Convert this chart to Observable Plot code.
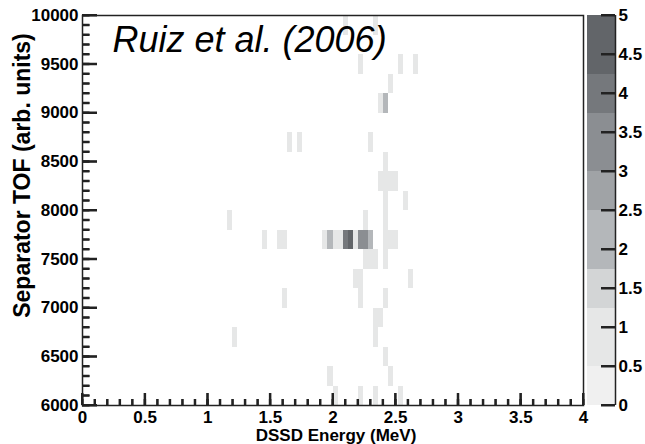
<!DOCTYPE html>
<html><head><meta charset="utf-8">
<script src="https://cdn.jsdelivr.net/npm/d3@7"></script>
<script src="https://cdn.jsdelivr.net/npm/@observablehq/plot@0.6"></script>
<style>
body{margin:0;background:#fff;}
#wrap{position:relative;width:645px;height:444px;}
#wrap svg{position:absolute;left:0;top:0;}
</style></head><body><div id="wrap"></div>
<script>
// Histogram cells: lower edge of energy bin (MeV), lower edge of TOF bin, counts
const cellEnergy = [2.08,2.32, 2.20,2.52,2.64, 2.44, 2.36,2.40, 1.64,1.72,2.28, 2.40,
  2.36,2.40,2.44,2.48, 2.40,2.56, 1.16,2.24,2.40,
  1.44,1.56,1.60,1.92,1.96,2.00,2.04,2.08,2.12,2.16,2.20,2.24,2.28,2.40,2.44,2.48,
  2.24,2.28,2.32,2.40, 2.16,2.20,2.60, 1.60,2.20,2.40, 2.32,2.36, 1.20,2.32, 2.40,
  1.96,2.44, 2.00,2.20,2.32,2.52];
const cellTof = [9800,9800, 9400,9400,9400, 9200, 9000,9000, 8600,8600,8600, 8400,
  8200,8200,8200,8200, 8000,8000, 7800,7800,7800,
  7600,7600,7600,7600,7600,7600,7600,7600,7600,7600,7600,7600,7600,7600,7600,7600,
  7400,7400,7400,7400, 7200,7200,7200, 7000,7000,7000, 6800,6800, 6600,6600, 6400,
  6200,6200, 6000,6000,6000,6000];
const cellCounts = [1,1, 1,1,1, 1, 1,2, 1,1,1, 1,
  1,1,1,1, 1,1, 1,1,1,
  1,1,1,1,2,1,1,4,5,1,3,3,2,1,1,1,
  1,1,1,1, 1,1,1, 1,1,1, 1,1, 1,1, 1,
  1,1, 1,1,1,1];

const xTicks = [0,0.5,1,1.5,2,2.5,3,3.5,4];
const yTicks = [6000,6500,7000,7500,8000,8500,9000,9500,10000];
const zTicks = [0,0.5,1,1.5,2,2.5,3,3.5,4,4.5,5];
const zLevels = [0.5,1.25,1.75,2.5,3,3.75,4.25];
const zColors = ["#f0f0f0","#e6e7e7","#d3d5d6","#b4b7ba","#a0a3a6","#8b8e92","#75787c","#626569"];
const zMax = 5;

const E_BIN = 0.04, T_BIN = 200;
const xMinor = d3.range(0, 41).map(i => i / 10);
const yMinor = d3.range(60, 101).map(i => i * 100);

const cells = cellEnergy.map((e, i) => ({e, t: cellTof[i], n: cellCounts[i]}));
const bandLo = [0, ...zLevels];
const bandHi = [...zLevels, zMax];
const bands = bandLo.map((lo, i) => ({lo, hi: bandHi[i], mid: (lo + bandHi[i]) / 2}));

const font = "'Liberation Sans', Arial, Helvetica, sans-serif";
const colorScale = {type: "threshold", domain: zLevels, range: zColors};
const ink = "#222";
const TW = 2; // tick stroke width

const W = 645, H = 444;
const mL = 82, mR = 62, mT = 15, mB = 39;
const frameW = W - mL - mR, frameH = H - mT - mB;

const main = Plot.plot({
  width: W, height: H,
  marginLeft: mL, marginRight: mR, marginTop: mT, marginBottom: mB,
  style: {background: "transparent", fontFamily: font, color: "#000"},
  x: {domain: [0, 4]},
  y: {domain: [6000, 10000]},
  color: colorScale,
  marks: [
    Plot.rect(cells, {x1: "e", x2: d => d.e + E_BIN, y1: "t", y2: d => d.t + T_BIN, fill: "n", shapeRendering: "crispEdges"}),
    Plot.ruleX(xMinor, {x: d => d, insetTop: frameH - 6, stroke: ink, strokeWidth: TW}),
    Plot.ruleX(xTicks, {x: d => d, insetTop: frameH - 12, stroke: ink, strokeWidth: TW}),
    Plot.ruleY(yMinor, {y: d => d, insetRight: frameW - 7.5, stroke: ink, strokeWidth: TW}),
    Plot.ruleY(yTicks, {y: d => d, insetRight: frameW - 15, stroke: ink, strokeWidth: TW}),
    Plot.frame({stroke: ink, strokeWidth: 1.5}),
    Plot.axisX({ticks: xTicks, tickSize: 0, tickPadding: 5, tickFormat: d => String(d), fontSize: 17, fontWeight: "bold", label: null}),
    Plot.axisY({ticks: yTicks, tickSize: 0, tickPadding: 4, tickFormat: d => String(d), fontSize: 17, fontWeight: "bold", label: null}),
    Plot.text(["Ruiz et al. (2006)"], {text: d => d, frameAnchor: "top-left", dx: 30, dy: 11, textAnchor: "start", lineAnchor: "top", fontSize: 36, fontStyle: "italic", fill: "#000"}),
    Plot.text(["DSSD Energy (MeV)"], {text: d => d, frameAnchor: "bottom", dx: 3, dy: 30, textAnchor: "middle", lineAnchor: "middle", fontSize: 17, fontWeight: "bold", fill: "#000"}),
    Plot.text(["Separator TOF (arb. units)"], {text: d => d, frameAnchor: "left", dx: -60, dy: -35, rotate: -90, textAnchor: "middle", lineAnchor: "middle", fontSize: 23, fontWeight: "bold", fill: "#000"})
  ]
});

const bL = 587, bR = 30;
const barW = W - bL - bR;
const bar = Plot.plot({
  width: W, height: H,
  marginLeft: bL, marginRight: bR, marginTop: mT, marginBottom: mB,
  style: {background: "transparent", fontFamily: font, color: "#000"},
  x: {domain: [0, 1], axis: null},
  y: {domain: [0, zMax]},
  color: colorScale,
  marks: [
    Plot.rect(bands, {x1: 0, x2: 1, y1: "lo", y2: "hi", fill: "mid", shapeRendering: "crispEdges"}),
    Plot.ruleX([1], {stroke: ink, strokeWidth: 1.5}),
    Plot.ruleY(zTicks, {y: d => d, insetLeft: barW - 14, stroke: ink, strokeWidth: TW}),
    Plot.axisY({anchor: "right", ticks: zTicks, tickSize: 0, tickPadding: 3, tickFormat: d => String(d), fontSize: 17, fontWeight: "bold", label: null})
  ]
});

// Same ticks again via Plot's own scale functions (guarantees placement)
function addTicks(svg, values, scaleName, side, len) {
  const s = svg.scale(scaleName);
  const g = d3.select(svg).append("g").attr("stroke", ink).attr("stroke-width", TW).attr("fill", "none");
  for (const v of values) {
    const p = s.apply(v);
    if (!isFinite(p)) continue;
    if (side === "bottom") g.append("line").attr("x1", p).attr("x2", p).attr("y1", H - mB).attr("y2", H - mB - len);
    else if (side === "left") g.append("line").attr("y1", p).attr("y2", p).attr("x1", mL).attr("x2", mL + len);
    else g.append("line").attr("y1", p).attr("y2", p).attr("x1", W - bR).attr("x2", W - bR - len);
  }
}
addTicks(main, xMinor, "x", "bottom", 6);
addTicks(main, xTicks, "x", "bottom", 12);
addTicks(main, yMinor, "y", "left", 7.5);
addTicks(main, yTicks, "y", "left", 15);
addTicks(bar, zTicks, "y", "right", 14);

const wrap = document.getElementById("wrap");
wrap.appendChild(main);
wrap.appendChild(bar);
</script></body></html>
